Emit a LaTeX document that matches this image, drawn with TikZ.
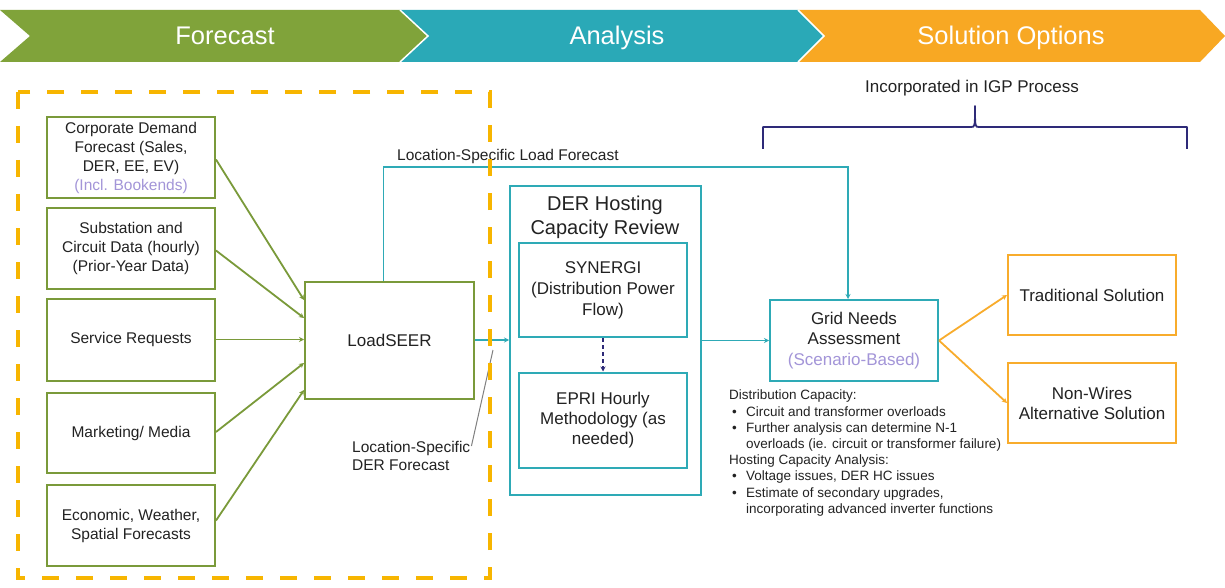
\documentclass[tikz,border=0pt]{standalone}
\usepackage{fontspec}
\setmainfont{Liberation Sans}
\usetikzlibrary{arrows.meta,calc}
\definecolor{bgreen}{HTML}{80A33A}
\definecolor{bteal}{HTML}{2AA9B7}
\definecolor{borange}{HTML}{F8A823}
\definecolor{lgreen}{HTML}{7A9A3A}
\definecolor{lteal}{HTML}{2EAAB6}
\definecolor{lorange}{HTML}{F8AC2C}
\definecolor{dashor}{HTML}{F7B500}
\definecolor{lav}{HTML}{A395D8}
\definecolor{navy}{HTML}{2E2A78}
\definecolor{txt}{HTML}{222222}
\newcommand\fsz[2]{\fontsize{#1pt}{#2pt}\selectfont}
\newcommand\bul{\makebox[17pt][l]{\hspace{3pt}•}}
\tikzset{
  gbox/.style={draw=lgreen, line width=2pt, minimum width=168pt, inner sep=2pt, align=center, text=txt, font=\fsz{15.5}{19}},
  tbox/.style={draw=lteal, line width=2pt, minimum width=168pt, inner sep=2pt, align=center, text=txt, font=\fsz{17}{20.5}},
  obox/.style={draw=lorange, line width=2pt, minimum width=168pt, minimum height=80pt, inner sep=2pt, align=center, text=txt, font=\fsz{17}{20}},
  gline/.style={draw=lgreen, line width=1.8pt, -{Stealth[length=5pt,width=5pt]}},
  tline/.style={draw=lteal, line width=1.8pt, -{Stealth[length=5pt,width=5pt]}},
  oline/.style={draw=lorange, line width=1.8pt, -{Stealth[length=5pt,width=5pt]}},
  bannertext/.style={text=white, font=\fsz{25.5}{28}, anchor=base},
}
\begin{document}
\begin{tikzpicture}[x=1pt,y=-1pt]
\useasboundingbox (0,0) rectangle (1225,588);
\fill[white] (0,0) rectangle (1225,588);
% banner
\fill[bgreen] (0,10) -- (400,10) -- (428,36) -- (400,62) -- (0,62) -- (30,36) -- cycle;
\fill[bteal] (400,10) -- (798,10) -- (824,36) -- (798,62) -- (400,62) -- (428,36) -- cycle;
\fill[borange] (798,10) -- (1200,10) -- (1225,36) -- (1200,62) -- (798,62) -- (824,36) -- cycle;
\draw[white, line width=1.5pt] (400,10) -- (428,36) -- (400,62);
\draw[white, line width=1.5pt] (798,10) -- (824,36) -- (798,62);
\node[bannertext] (b1) at (225,45) {Forecast};
\node[bannertext] (b2) at (617,45) {Analysis};
\node[bannertext] (b3) at (1011,45) {Solution Options};

% left boxes
\node[gbox, minimum height=81pt] (c1) at (131,157.5) {Corporate Demand\\Forecast (Sales,\\DER, EE, EV)\\\textcolor{lav}{(Incl. Bookends)}};
\node[gbox, minimum height=81pt] (c2) at (131,248.5) {Substation and\\Circuit Data (hourly)\\(Prior-Year Data)};
\node[gbox, minimum height=82pt] (c3) at (131,339.5) {Service Requests};
\node[gbox, minimum height=80pt] (c4) at (131,433) {Marketing/ Media};
\node[gbox, minimum height=81pt] (c5) at (131,525.5) {Economic, Weather,\\Spatial Forecasts};

% LoadSEER
\node[gbox, minimum width=169pt, minimum height=117pt, font=\fsz{17}{20}] (ls) at (389.5,340) {LoadSEER};

\draw[gline] ($(c1.east)+(0,2)$) -- ($(ls.west)+(0,-40)$);
\draw[gline] ($(c2.east)+(0,2)$) -- ($(ls.west)+(0,-22)$);
\draw[gline] (c3.east) -- (ls.west |- c3.east);
\draw[gline] ($(c4.east)+(0,-1)$) -- ($(ls.west)+(0,23)$);
\draw[gline] ($(c5.east)+(0,-5)$) -- ($(ls.west)+(0,50)$);

% DER hosting box
\node[draw=lteal, line width=2pt, minimum width=191pt, minimum height=309pt, inner sep=0pt] (der) at (605.5,340.5) {};
\node[text=txt, font=\fsz{20}{24}, align=center] (dert) at (605,217) {DER Hosting\\Capacity Review};
\node[tbox, minimum height=94pt, font=\fsz{17}{21}] (syn) at (603,290) {SYNERGI\\(Distribution Power\\Flow)};
\node[tbox, minimum height=95pt, font=\fsz{17}{20}] (epri) at (603,420) {EPRI Hourly\\Methodology (as\\needed)};
\draw[navy, line width=1.4pt, dashed, dash pattern=on 4pt off 3pt, -{Stealth[length=5pt,width=5pt]}] (syn.south) -- (epri.north);

% Grid needs
\node[tbox, minimum height=81pt] (grid) at (854,340.5) {Grid Needs\\Assessment\\\textcolor{lav}{(Scenario-Based)}};

% solution boxes
\node[obox] (trad) at (1092,295) {Traditional Solution};
\node[obox] (nw) at (1092,403) {Non-Wires\\Alternative Solution};

% connectors
\draw[tline] (ls.east) -- (der.west |- ls.east);
\coordinate (lfc) at (848,167);
\draw[tline] ($(ls.north)+(-6,0)$) |- (lfc) -- (lfc |- grid.north);
\node[anchor=base west, text=txt, font=\fsz{15.5}{18}, inner sep=0pt] (lflbl) at (397,161) {Location-Specific Load Forecast};
\draw[tline] (der.east |- grid.west) -- (grid.west);
\draw[oline] (grid.east) -- (trad.west);
\draw[oline] (grid.east) -- (nw.west);

% DER forecast label
\node[anchor=north west, text=txt, font=\fsz{15.5}{18}, align=left, inner sep=0pt] (dflbl) at (352,441) {Location-Specific\\DER Forecast};
\coordinate (dfend) at (493,350);
\draw[gray, line width=1pt] ($(dflbl.north east)+(1,5)$) -- (dfend);

% dashed forecast region
\draw[dashor, line width=4.5pt, dash pattern=on 17pt off 17pt] (18,92) rectangle (490,578);

% bullets
\node[anchor=north west, text=txt, font=\fsz{13.5}{16.2}, align=left, inner sep=0pt] (notes) at (729,390) {Distribution Capacity:\\
\bul Circuit and transformer overloads\\
\bul Further analysis can determine N-1\\
\hspace*{17pt}overloads (ie. circuit or transformer failure)\\
Hosting Capacity Analysis:\\
\bul Voltage issues, DER HC issues\\
\bul Estimate of secondary upgrades,\\
\hspace*{17pt}incorporating advanced inverter functions};

% brace
\draw[navy, line width=1.8pt, line join=round] (763,149) -- (763,127) -- (971,127) .. controls (975,127) .. (975,106) .. controls (975,127) .. (979,127) -- (1187,127) -- (1187,149);
\node[text=txt, font=\fsz{17}{20}] (igp) at (972,88) {Incorporated in IGP Process};
\end{tikzpicture}
\end{document}
